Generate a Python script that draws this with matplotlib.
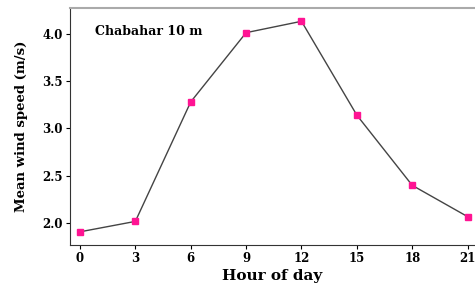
import matplotlib.pyplot as plt

# data
hours = [0, 3, 6, 9, 12, 15, 18, 21]
wind_speed = [1.91, 2.02, 3.28, 4.01, 4.13, 3.14, 2.40, 2.07]
yticks = [2.0, 2.5, 3.0, 3.5, 4.0]

plt.rcParams['font.family'] = 'DejaVu Serif'
plt.rcParams['font.weight'] = 'bold'

fig = plt.figure(figsize=(4.75, 2.86), dpi=100)
ax = fig.add_axes([0.147, 0.143, 0.853, 0.829])

ax.plot(hours, wind_speed, color='#444444', lw=1.0, marker='s', ms=5,
        mfc='#ff1493', mec='#ff1493', zorder=3)

ax.set_xlim(-0.55, 21.4)
ax.set_ylim(1.77, 4.27)
ax.set_xticks(hours)
ax.set_yticks(yticks)
ax.set_yticklabels(['%.1f' % v for v in yticks])
ax.tick_params(labelsize=8.5, length=3, width=0.8, pad=2)

ax.spines['right'].set_visible(False)
ax.spines['top'].set_color('#aaaaaa')
ax.spines['top'].set_linewidth(1.5)
ax.spines['left'].set_color('#333333')
ax.spines['bottom'].set_color('#333333')

ax.set_xlabel('Hour of day', fontsize=11, fontweight='bold', labelpad=3)
ax.set_ylabel('Mean wind speed (m/s)', fontsize=9.5, fontweight='bold', labelpad=10)
ax.text(0.062, 0.9, 'Chabahar 10 m', transform=ax.transAxes, fontsize=9,
        fontweight='bold', va='center')

fig.savefig('out.png', dpi=100)
